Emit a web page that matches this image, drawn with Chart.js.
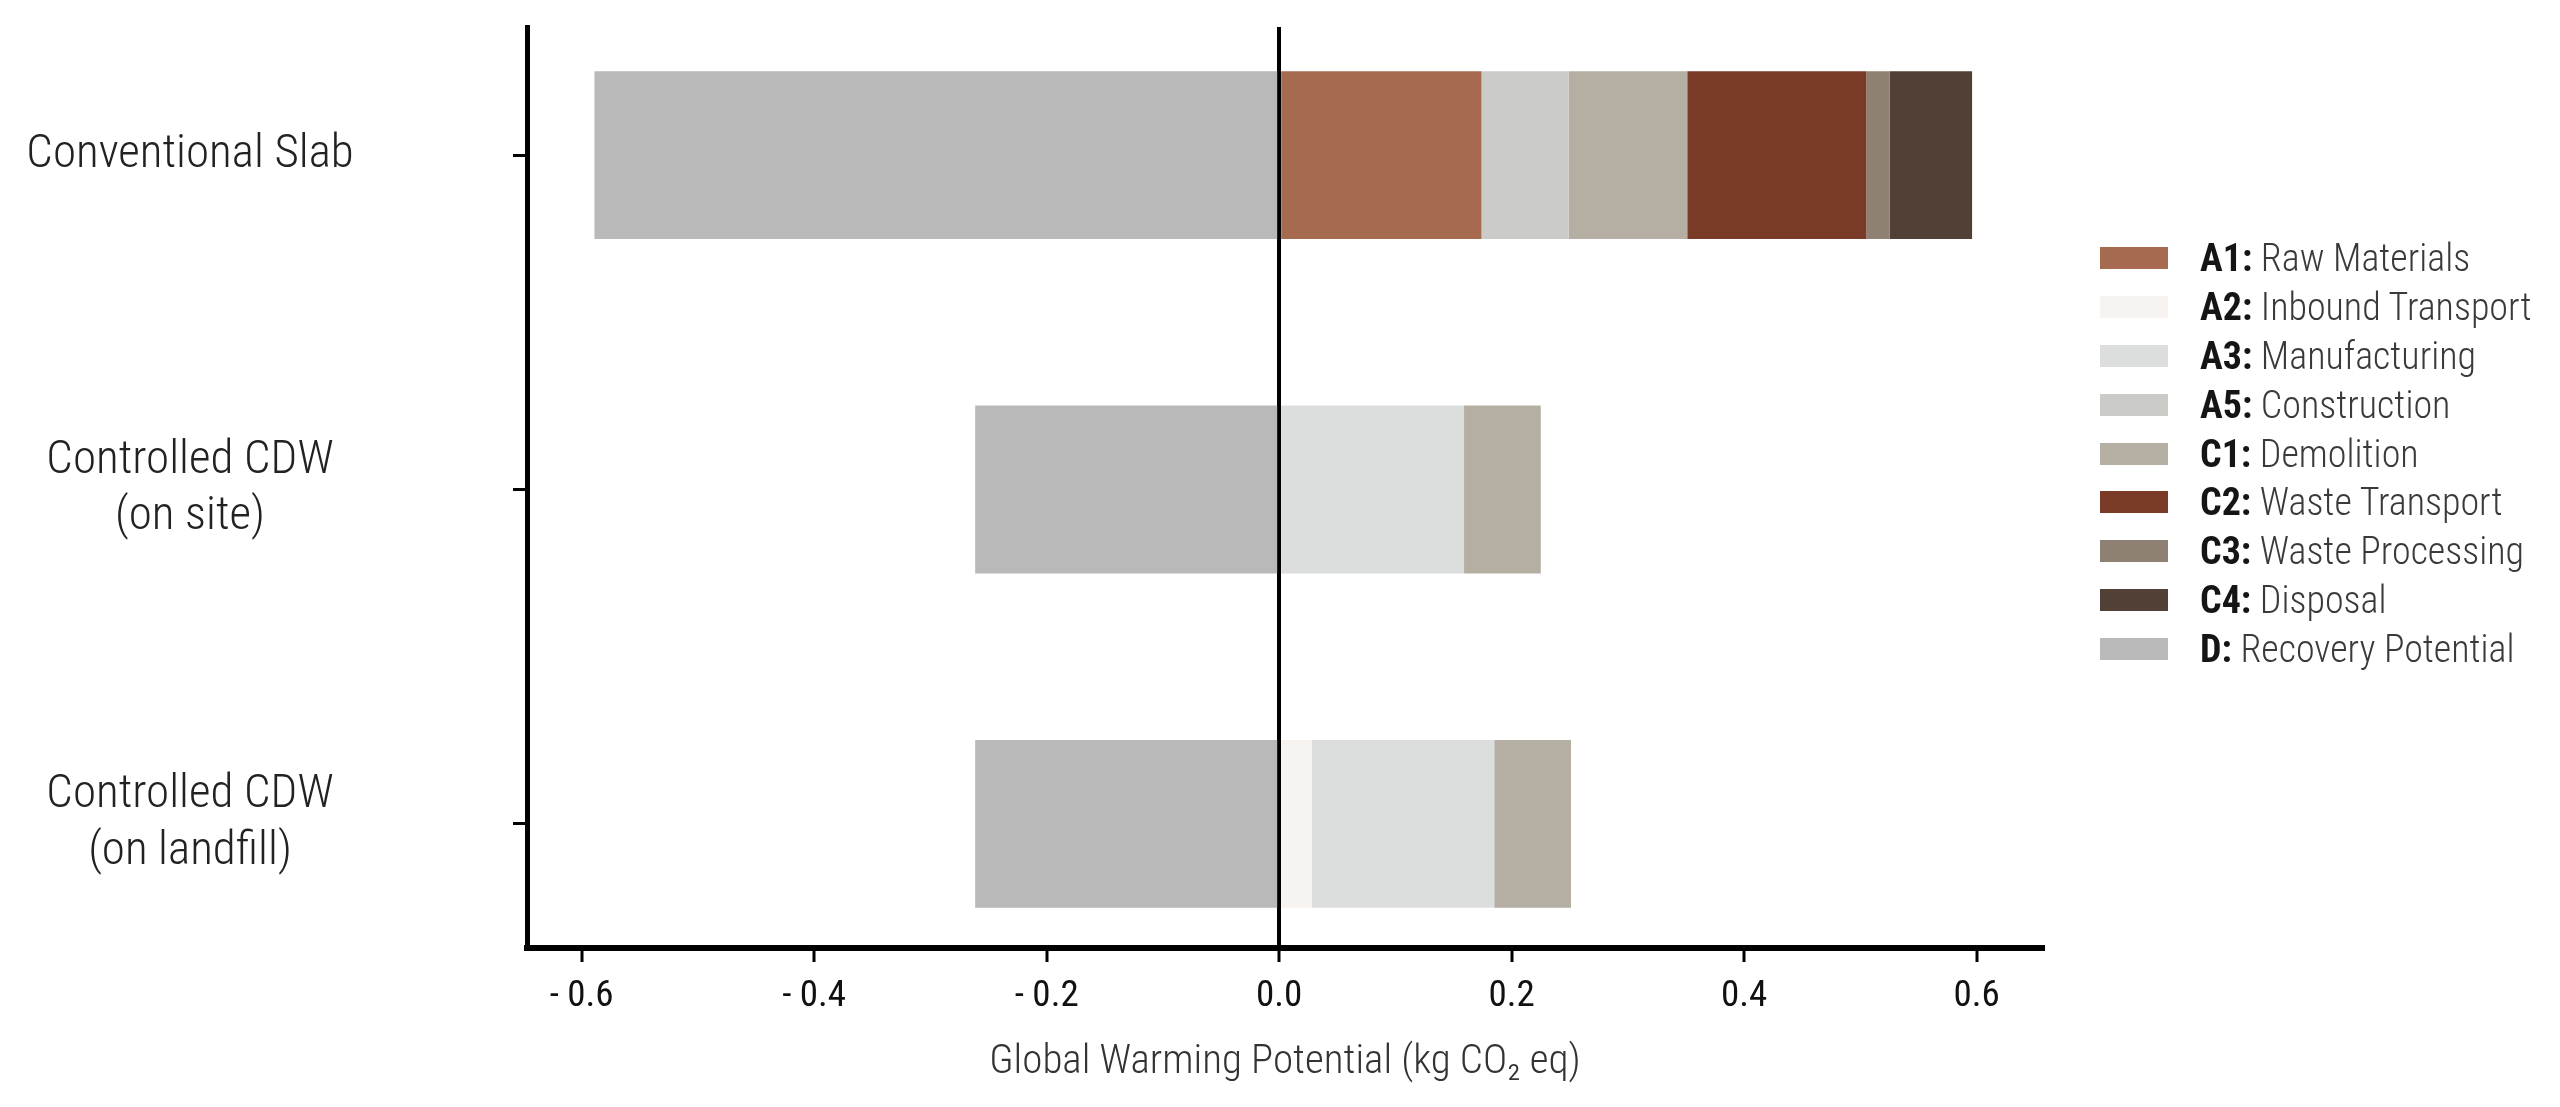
<!DOCTYPE html>
<html>
<head>
<meta charset="utf-8">
<title>Global Warming Potential by life-cycle stage</title>
<script src="https://cdn.jsdelivr.net/npm/chart.js"></script>
<style>
  html, body { margin: 0; padding: 0; background: #fff; }
  #wrap { position: relative; width: 2560px; height: 1107px; }
  #legend { position: absolute; left: 2100px; top: 234px; }
  .row { display: flex; align-items: center; height: 48.8px; white-space: nowrap; color: #3a3a3a; font-weight: 300; }
  .sw { width: 68px; height: 22px; margin-right: 32px; flex: none; }
  .row b { color: #151515; font-weight: 700; }
</style>
</head>
<body>
<div id="wrap">
  <canvas id="chart" width="2560" height="1107"></canvas>
  <div id="legend"></div>
</div>
<script>
// scenarios (y axis)
const categories = ['Conventional Slab', ['Controlled CDW', '(on site)'], ['Controlled CDW', '(on landfill)']];

// life-cycle stages
const stageCodes = ['A1', 'A2', 'A3', 'A5', 'C1', 'C2', 'C3', 'C4', 'D'];
const stageNames = ['Raw Materials', 'Inbound Transport', 'Manufacturing', 'Construction', 'Demolition',
                    'Waste Transport', 'Waste Processing', 'Disposal', 'Recovery Potential'];
const stageColors = ['#a66a50', '#f7f3f1', '#dcdedd', '#cbcbc7', '#b5aea2',
                     '#7a3a28', '#8e8073', '#523f35', '#b9b9b9'];

// kg CO2 eq per scenario
const a1 = [0.174, 0, 0];
const a2 = [0, 0, 0.028];
const a3 = [0, 0.159, 0.157];
const a5 = [0.075, 0, 0];
const c1 = [0.102, 0.066, 0.066];
const c2 = [0.154, 0, 0];
const c3 = [0.020, 0, 0];
const c4 = [0.071, 0, 0];
const d  = [-0.589, -0.2615, -0.2615];
const stageValues = [a1, a2, a3, a5, c1, c2, c3, c4, d];

const xTicks = [-0.6, -0.4, -0.2, 0, 0.2, 0.4, 0.6];

// pick a narrow face if one is installed, otherwise shrink plain Roboto
const probe = document.createElement('canvas').getContext('2d');
function fontExists(name) {
  const s = 'Conventional Slab 0.6 Waste';
  probe.font = '40px monospace';
  const w0 = probe.measureText(s).width;
  probe.font = '40px "' + name + '", monospace';
  return probe.measureText(s).width !== w0;
}
let family = 'Roboto, sans-serif', k = 0.8;
if (fontExists('Roboto Condensed')) { family = '"Roboto Condensed", Roboto, sans-serif'; k = 1; }
else if (fontExists('Liberation Sans Narrow')) { family = '"Liberation Sans Narrow", sans-serif'; k = 1; }

const ySize = Math.round(47 * k), xSize = Math.round(37 * k), titleSize = Math.round(41 * k), legSize = Math.round(38 * k);

probe.font = '300 ' + ySize + 'px ' + family;
const widest = probe.measureText('Conventional Slab').width;
const yPad = Math.max(4, 527 - 14 - 190 - widest / 2);

const datasets = stageCodes.map((code, i) => ({
  label: code + ': ' + stageNames[i],
  data: stageValues[i].map((v, j) => ({ x: v, y: j })),
  backgroundColor: stageColors[i],
  borderWidth: 0,
  barPercentage: 0.502,
  categoryPercentage: 1
}));

// the label column is placed by tick padding, so drop the edge padding it implies
function noEdgePadding(s) {
  s.paddingTop = 0; s.paddingBottom = 0; s.paddingLeft = 0; s.paddingRight = 0;
}

new Chart(document.getElementById('chart'), {
  type: 'bar',
  data: { datasets: datasets },
  options: {
    indexAxis: 'y',
    responsive: false,
    devicePixelRatio: 1,
    animation: false,
    layout: { autoPadding: false, padding: { top: 27, right: 517, left: 0, bottom: 0 } },
    plugins: { legend: { display: false }, tooltip: { enabled: false } },
    scales: {
      x: {
        type: 'linear',
        stacked: true,
        min: -0.647,
        max: 0.657,
        z: 1,
        afterFit: s => { s.height = 159; noEdgePadding(s); },
        afterBuildTicks: s => { s.ticks = xTicks.map(v => ({ value: v })); },
        border: { display: true, color: '#000', width: 6 },
        grid: {
          color: c => (c.tick && c.tick.value === 0 ? '#000' : 'rgba(0,0,0,0)'),
          lineWidth: 4,
          tickColor: '#000',
          tickWidth: 3,
          tickLength: 14
        },
        ticks: {
          padding: 13,
          color: '#111',
          font: { family: family, size: xSize, weight: '400' },
          maxRotation: 0,
          callback: v => (v < 0 ? '- ' : '') + Math.abs(v).toFixed(1)
        },
        title: {
          display: true,
          text: 'Global Warming Potential (kg CO\u2082 eq)',
          color: '#333',
          font: { family: family, size: titleSize, weight: '300' },
          padding: { top: 0, bottom: 20 }
        }
      },
      y: {
        type: 'linear',
        stacked: true,
        reverse: true,
        offset: false,
        min: -0.383,
        max: 2.371,
        afterFit: s => { s.width = 527; noEdgePadding(s); },
        afterBuildTicks: s => { s.ticks = categories.map((c, i) => ({ value: i })); },
        border: { display: true, color: '#000', width: 5 },
        grid: {
          offset: false,
          drawOnChartArea: false,
          tickColor: '#000',
          tickWidth: 3,
          tickLength: 14
        },
        ticks: {
          padding: yPad,
          crossAlign: 'center',
          color: '#222',
          font: { family: family, size: ySize, weight: '300' },
          callback: v => categories[v]
        }
      }
    }
  }
});

// legend with bold stage codes
const legend = document.getElementById('legend');
legend.style.fontFamily = family;
legend.style.fontSize = legSize + 'px';
stageCodes.forEach((code, i) => {
  const row = document.createElement('div');
  row.className = 'row';
  const sw = document.createElement('span');
  sw.className = 'sw';
  sw.style.background = stageColors[i];
  const txt = document.createElement('span');
  const b = document.createElement('b');
  b.textContent = code + ':';
  txt.appendChild(b);
  txt.appendChild(document.createTextNode(' ' + stageNames[i]));
  row.appendChild(sw);
  row.appendChild(txt);
  legend.appendChild(row);
});
</script>
</body>
</html>
